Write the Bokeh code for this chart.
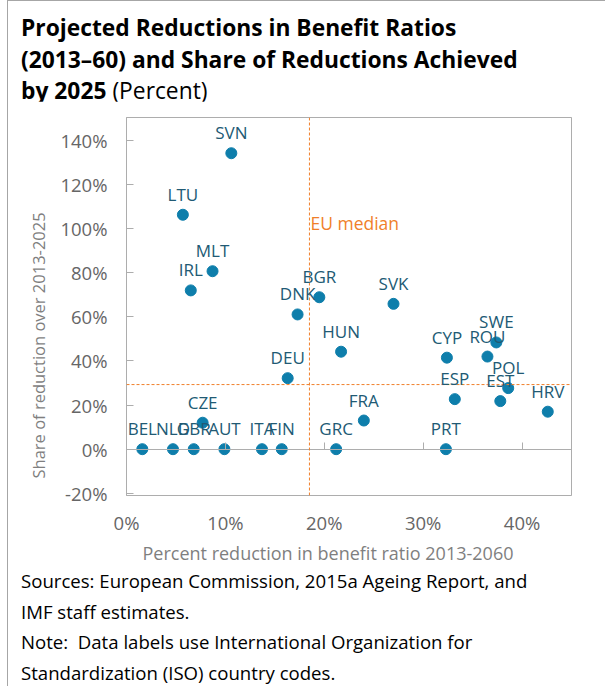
from bokeh.core.properties import value
from bokeh.embed import file_html
from bokeh.layouts import column
from bokeh.models import (BoxAnnotation, ColumnDataSource, CustomLabelingPolicy,
                          Div, FixedTicker, Label, LabelSet, LinearAxis,
                          PrintfTickFormatter, Span, Title)
from bokeh.plotting import figure
from bokeh.resources import INLINE

# ---------------- data (percent) ----------------
countries = ["SVN", "LTU", "MLT", "IRL", "DNK", "BGR", "SVK", "HUN", "DEU",
             "CYP", "ROU", "SWE", "POL", "EST", "ESP", "HRV", "FRA", "CZE",
             "BEL", "NLD", "GBR", "AUT", "ITA", "FIN", "GRC", "PRT"]
reduction = [10.6, 5.7, 8.7, 6.5, 17.3, 19.5, 27.0, 21.7, 16.3,
             32.4, 36.5, 37.4, 38.6, 37.8, 33.2, 42.6, 24.0, 7.7,
             1.6, 4.7, 6.8, 9.9, 13.7, 15.7, 21.2, 32.3]
share = [134.2, 106.3, 80.7, 72.0, 61.1, 68.9, 65.9, 44.2, 32.2,
         41.5, 42.0, 48.4, 27.7, 21.8, 22.7, 17.0, 13.0, 12.0,
         0, 0, 0, 0, 0, 0, 0, 0]
eu_median_reduction = 18.5
eu_median_share = 29.3
x_ticks = [0, 10, 20, 30, 40]
y_ticks = [-20, 0, 20, 40, 60, 80, 100, 120, 140]

FONT = "Open Sans"
DOT = "#0E7EAB"
LBL = "#215A74"
ORANGE = "#F07F2A"
AXIS = "#ADADAD"
TICKLBL = "#666666"
TITLECLR = "#7F7F7F"
BORDER = "#A6A6A6"

src = ColumnDataSource(dict(x=reduction, y=share, name=countries))

p = figure(width=597, height=465, x_range=(0, 45), y_range=(-21, 150.4),
           output_backend="svg", toolbar_location=None,
           min_border_left=118, min_border_right=34,
           min_border_top=16, min_border_bottom=71)
p.grid.visible = False
p.outline_line_color = AXIS
p.background_fill_color = "white"
p.border_fill_color = "white"

# frame border
p.add_layout(BoxAnnotation(fill_alpha=0, line_color=AXIS, line_width=1,
                           line_alpha=1))

# bottom axis: labels only
xa = p.xaxis[0]
xa.ticker = FixedTicker(ticks=x_ticks)
xa.formatter = PrintfTickFormatter(format="%d%%")
xa.axis_line_color = None
xa.major_tick_line_color = None
xa.minor_tick_line_color = None
xa.major_tick_in = 0
xa.major_tick_out = 0
xa.major_label_standoff = 14
xa.major_label_text_font = FONT
xa.major_label_text_font_size = "18.5px"
xa.major_label_text_color = TICKLBL

p.add_layout(Title(text="Percent reduction in benefit ratio 2013-2060",
                   align="left", offset=16, standoff=2, text_font=FONT,
                   text_font_size="18px", text_font_style="normal",
                   text_color=TITLECLR), "below")

# zero line with upward ticks (no labels)
zax = LinearAxis(fixed_location=0, ticker=FixedTicker(ticks=x_ticks),
                 major_tick_in=0, major_tick_out=7,
                 minor_tick_line_color=None,
                 axis_line_color=AXIS, major_tick_line_color=AXIS,
                 major_label_standoff=0,
                 major_label_policy=CustomLabelingPolicy(
                     code="for (const i of Array.from(indices)) { indices.unset(i) } return indices"))
p.add_layout(zax, "above")

ya = p.yaxis[0]
ya.ticker = FixedTicker(ticks=y_ticks)
ya.formatter = PrintfTickFormatter(format="%d%%")
ya.axis_line_color = AXIS
ya.major_tick_line_color = AXIS
ya.major_tick_in = 7
ya.major_tick_out = 0
ya.minor_tick_line_color = None
ya.major_label_standoff = 19
ya.major_label_text_font = FONT
ya.major_label_text_font_size = "18.5px"
ya.major_label_text_color = TICKLBL

p.add_layout(Title(text="Share of reduction over 2013-2025", align="left",
                   offset=17, text_font=FONT, text_font_size="16.5px",
                   text_font_style="normal", text_color=TITLECLR,
                   standoff=15), "left")

# median lines
p.add_layout(Span(location=eu_median_reduction, dimension="height",
                  line_color=ORANGE, line_dash="3 2", line_width=1))
p.add_layout(Span(location=eu_median_share, dimension="width",
                  line_color=ORANGE, line_dash="3 2", line_width=1))
p.add_layout(Label(x=eu_median_reduction, y=102.4, x_offset=1,
                   text="EU median", text_color=ORANGE, text_font=FONT,
                   text_font_size="17.5px", text_baseline="middle"))

p.scatter("x", "y", source=src, size=11, fill_color=DOT, line_color=DOT)
p.add_layout(LabelSet(x="x", y="y", text="name", source=src,
                      text_align="center", text_baseline="alphabetic",
                      y_offset=14, text_color=LBL, text_font=value(FONT),
                      text_font_size="17px"))

title = Div(text="<b>Projected Reductions in Benefit Ratios<br>"
                 "(2013–60) and Share of Reductions Achieved<br>"
                 "by 2025</b> (Percent)",
            width=597, height=100, margin=0,
            styles={"font-family": FONT, "font-size": "22.8px",
                    "line-height": "31.5px", "color": "#000000",
                    "padding-left": "13px", "padding-top": "11px",
                    "white-space": "nowrap", "box-sizing": "border-box"})

footer = Div(text="Sources: European Commission, 2015a Ageing Report, and<br>"
                  "IMF staff estimates.<br>"
                  "Note:&nbsp; Data labels use International Organization for<br>"
                  "Standardization (ISO) country codes.",
             width=597, height=120, margin=0,
             styles={"font-family": FONT, "font-size": "18.6px",
                     "line-height": "30.5px", "color": "#000000",
                     "padding-left": "13px", "padding-top": "0px",
                     "overflow": "hidden",
                     "white-space": "nowrap", "box-sizing": "border-box"})

layout = column(title, p, footer, spacing=0, margin=(0, 0, 0, 7),
                styles={"border-left": f"1px solid {BORDER}",
                        "border-top": f"1px solid {BORDER}"})

with open("out.html", "w") as f:
    f.write(file_html(layout, INLINE))
